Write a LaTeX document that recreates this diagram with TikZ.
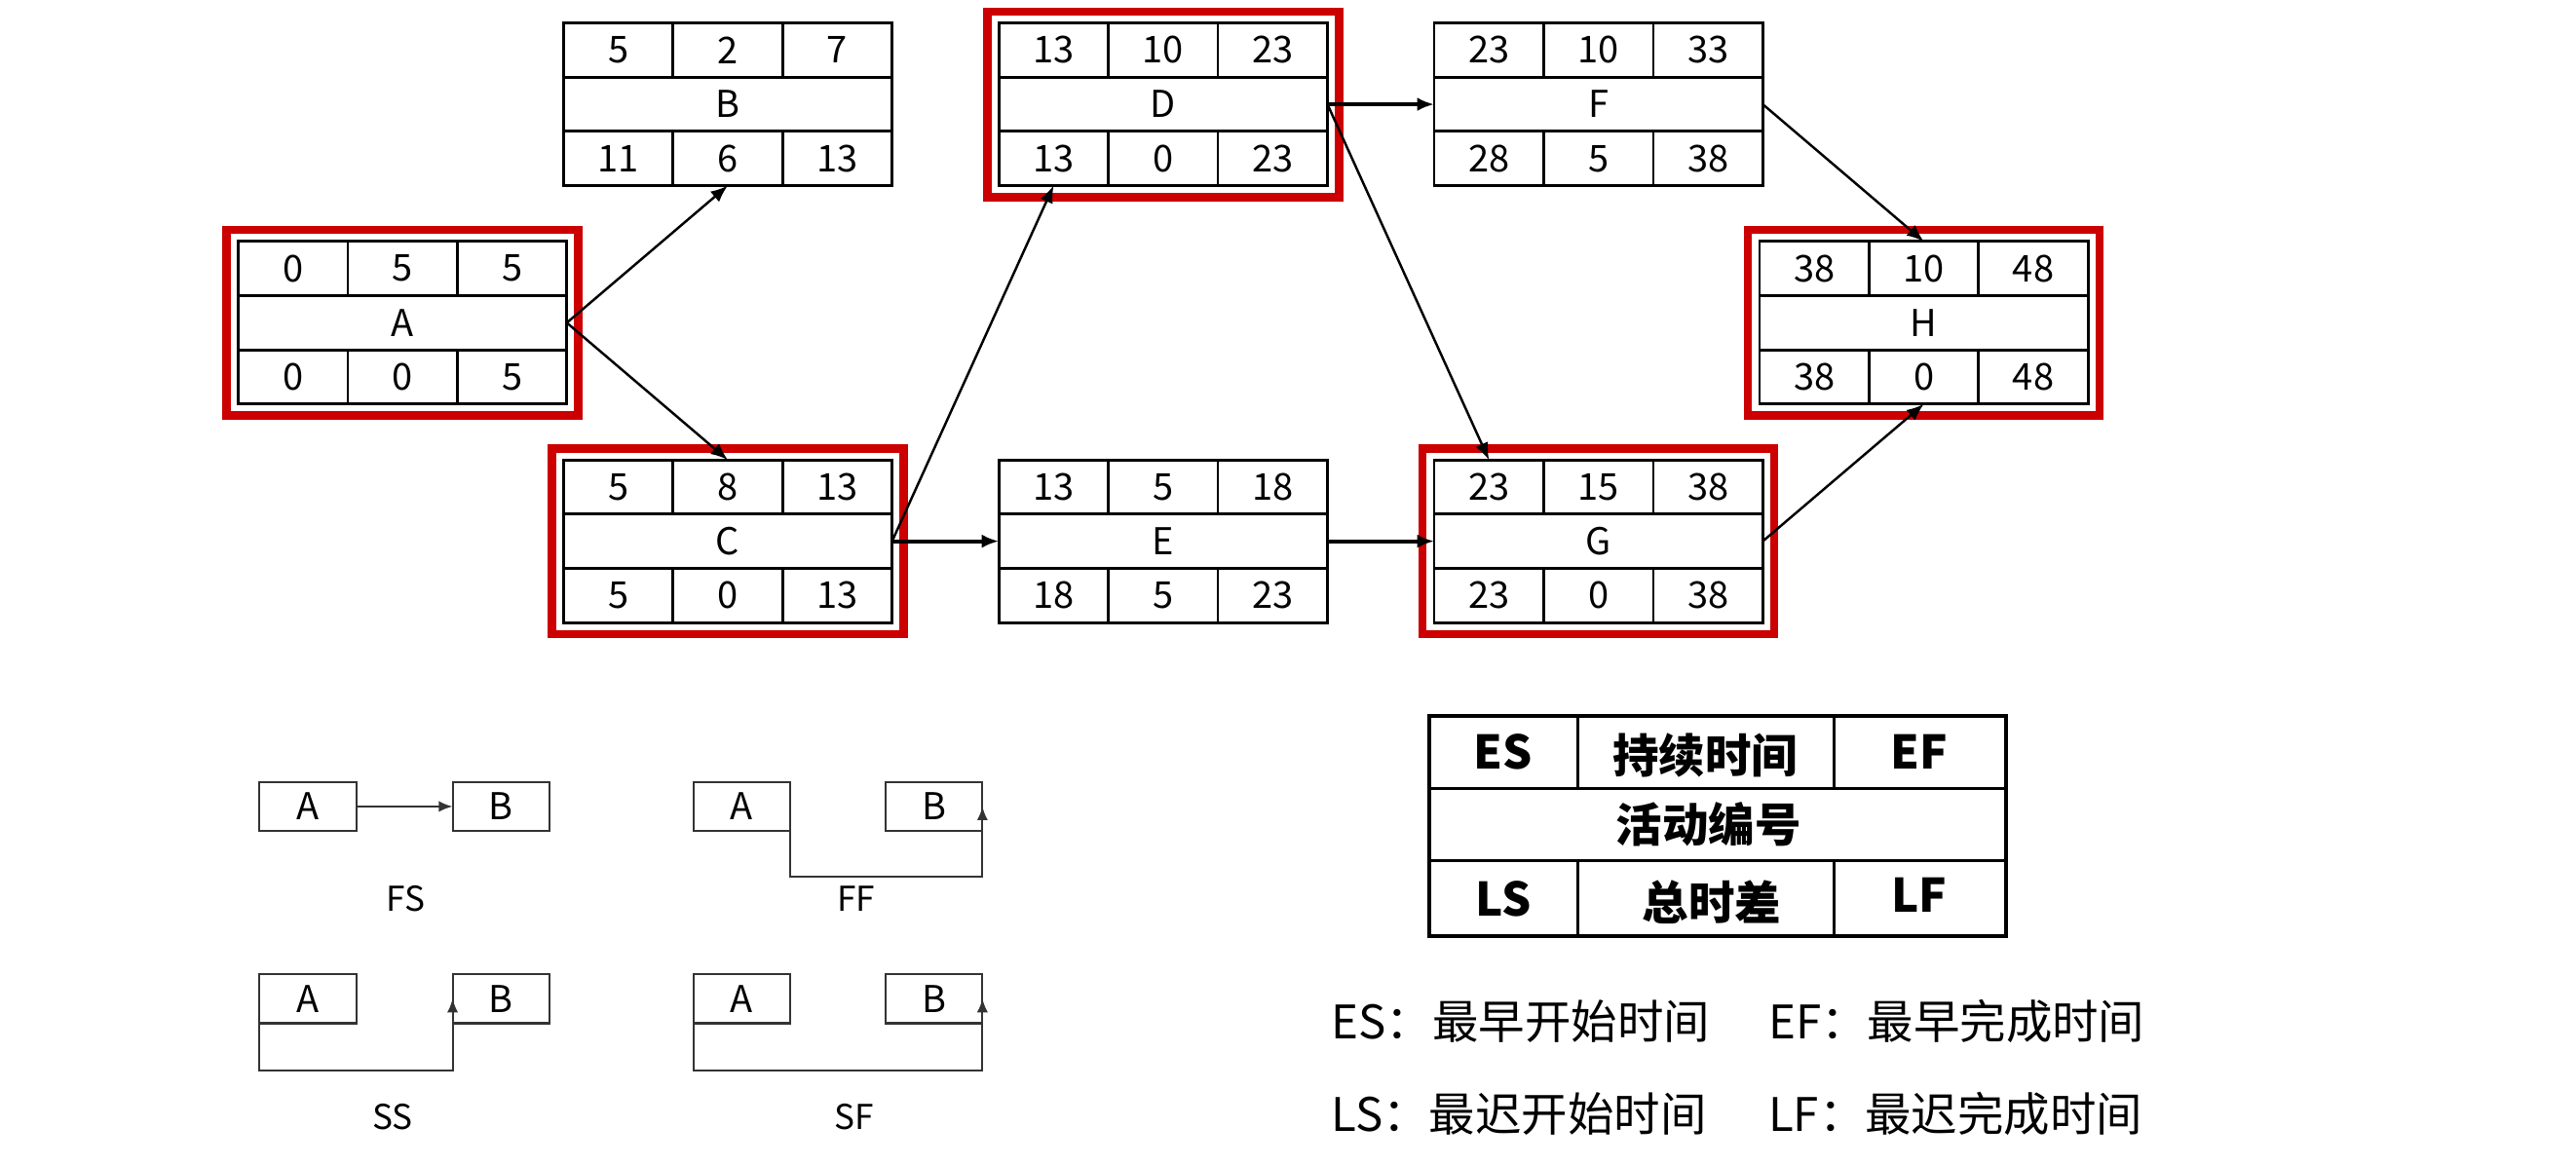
\documentclass[tikz,border=0pt]{standalone}
\usepackage{fontspec}
\setmainfont{Noto Sans CJK SC}
\usetikzlibrary{arrows.meta,calc}
\definecolor{critred}{RGB}{204,0,0}
\newcommand\actbox[9]{%
  \begin{scope}[shift={#2}]
    \node[abox, anchor=north west] (#1) at (0,0) {};
    \draw[gridl] (0,33) -- (200,33) (0,66) -- (200,66)
      (66.67,0) -- (66.67,33) (133.33,0) -- (133.33,33)
      (66.67,66) -- (66.67,99) (133.33,66) -- (133.33,99);
    \node[cell] (#1-es) at (33.33,16.5) {#3};
    \node[cell] (#1-d)  at (100,16.5) {#4};
    \node[cell] (#1-ef) at (166.67,16.5) {#5};
    \node[cell] (#1-id) at (100,49.5) {#6};
    \node[cell] (#1-ls) at (33.33,82.5) {#7};
    \node[cell] (#1-tf) at (100,82.5) {#8};
    \node[cell] (#1-lf) at (166.67,82.5) {#9};
    \coordinate (#1-tl) at (33.33,0);
    \coordinate (#1-bl) at (33.33,99);
  \end{scope}}
\begin{document}
\begin{tikzpicture}[x=0.0168622cm, y=-0.0168622cm,
  abox/.style={draw, line width=0.8pt, minimum width=3.3724cm, minimum height=1.6694cm, inner sep=0pt, outer sep=0pt},
  gridl/.style={line width=0.8pt},
  cell/.style={font=\fontsize{10.8}{12}\selectfont, inner sep=0pt},
  crit/.style={draw=critred, line width=2.4pt},
  conn/.style={line width=0.7pt, -{Latex[length=5pt,width=4pt]}},
  bconn/.style={line width=1.2pt, -{Latex[length=5pt,width=4pt]}},
  sbox/.style={draw=black!80, line width=0.6pt, minimum width=0.9949cm, minimum height=0.5059cm, inner sep=0pt, outer sep=0pt, anchor=north west, font=\fontsize{10.8}{12}\selectfont},
  sconn/.style={draw=black!80, line width=0.6pt, -{Latex[length=4pt,width=3.2pt]}},
  slabel/.style={font=\fontsize{10}{12}\selectfont, inner sep=0pt},
  legtext/.style={font=\fontsize{13.5}{15}\selectfont\bfseries, inner sep=0pt},
  note/.style={font=\fontsize{13.5}{15}\selectfont, inner sep=0pt, anchor=west}
]
\fill[white] (0,0) rectangle (1568,709);
\useasboundingbox (0,0) rectangle (1568,709);

% activity boxes
\actbox{A}{(145,147)}{0}{5}{5}{A}{0}{0}{5}
\actbox{B}{(343,14)}{5}{2}{7}{B}{11}{6}{13}
\actbox{C}{(343,280)}{5}{8}{13}{C}{5}{0}{13}
\actbox{D}{(608,14)}{13}{10}{23}{D}{13}{0}{23}
\actbox{E}{(608,280)}{13}{5}{18}{E}{18}{5}{23}
\actbox{F}{(873,14)}{23}{10}{33}{F}{28}{5}{38}
\actbox{G}{(873,280)}{23}{15}{38}{G}{23}{0}{38}
\actbox{H}{(1071,147)}{38}{10}{48}{H}{38}{0}{48}

% critical path frames
\foreach \n in {A,C,D,G,H}{
  \draw[crit] ($(\n.north west)+(-7,-7)$) rectangle ($(\n.south east)+(7,7)$);
}

% connectors
\draw[conn] (A.east) -- (B.south);
\draw[conn] (A.east) -- (C.north);
\draw[conn] (C.east) -- (D-bl);
\draw[bconn] (C.east) -- (E.west);
\draw[bconn] (D.east) -- (F.west);
\draw[conn] (D.east) -- (G-tl);
\draw[bconn] (E.east) -- (G.west);
\draw[conn] (F.east) -- (H.north);
\draw[conn] (G.east) -- (H.south);

% dependency types
\node[sbox] (fsA) at (158,476) {A};
\node[sbox] (fsB) at (275.5,476) {B};
\draw[sconn] (fsA.east) -- (fsB.west);
\node[slabel] (fsL) at (247,547) {FS};

\node[sbox] (ffA) at (422,476) {A};
\node[sbox] (ffB) at (539,476) {B};
\coordinate (ffbot) at (0,534);
\draw[sconn] (ffA.east) -- (ffA.east |- ffbot) -- (ffB.east |- ffbot) -- (ffB.east);
\node[slabel] (ffL) at (521,547) {FF};

\node[sbox] (ssA) at (158,593) {A};
\node[sbox] (ssB) at (275.5,593) {B};
\coordinate (ssbot) at (0,652);
\draw[sconn] (ssA.west) -- (ssA.west |- ssbot) -- (ssB.west |- ssbot) -- (ssB.west);
\node[slabel] (ssL) at (239,680) {SS};

\node[sbox] (sfA) at (422,593) {A};
\node[sbox] (sfB) at (539,593) {B};
\coordinate (sfbot) at (0,652);
\draw[sconn] (sfA.west) -- (sfA.west |- sfbot) -- (sfB.east |- sfbot) -- (sfB.east);
\node[slabel] (sfL) at (520,680) {SF};

% legend table
\node[draw, line width=1pt, minimum width=5.919cm, minimum height=2.2595cm, inner sep=0pt, outer sep=0pt, anchor=north west] (leg) at (870,436) {};
\draw[line width=1pt] (870,480) -- (1221,480) (870,524) -- (1221,524)
  (960.5,436) -- (960.5,480) (1116.5,436) -- (1116.5,480)
  (960.5,524) -- (960.5,570) (1116.5,524) -- (1116.5,570);
\node[legtext] (legES) at (915,458) {ES};
\node[legtext] (legD)  at (1038,460) {持续时间};
\node[legtext] (legEF) at (1168,458) {EF};
\node[legtext] (legID) at (1040,502) {活动编号};
\node[legtext] (legLS) at (915,547) {LS};
\node[legtext] (legTF) at (1042,549) {总时差};
\node[legtext] (legLF) at (1168,545) {LF};

% explanations
\node[note] (nES) at (810,622) {ES：最早开始时间};
\node[note] (nEF) at (1076,622) {EF：最早完成时间};
\node[note] (nLS) at (810,678) {LS：最迟开始时间};
\node[note] (nLF) at (1076,678) {LF：最迟完成时间};
\end{tikzpicture}
\end{document}
